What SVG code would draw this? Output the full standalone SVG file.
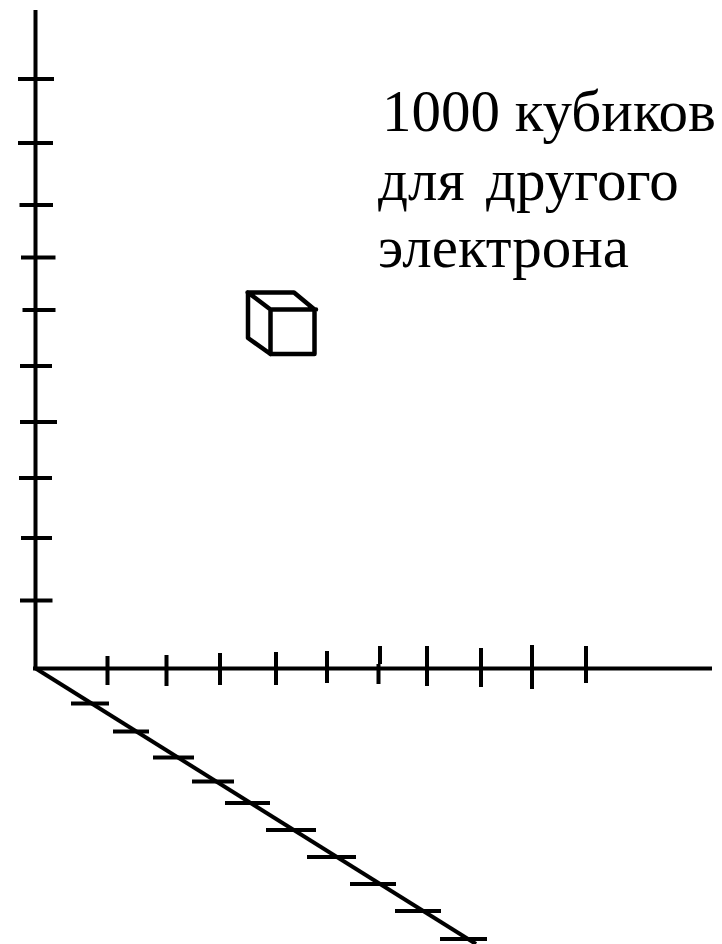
<svg xmlns="http://www.w3.org/2000/svg" width="722" height="944" viewBox="0 0 722 944">
<style>
.l{stroke:#000;stroke-width:4;fill:none}
.c{stroke:#000;stroke-width:4.5;fill:none;stroke-linecap:round;stroke-linejoin:round}
text{font-family:"Liberation Serif","Times New Roman",serif;font-size:59px;fill:#000;white-space:pre}
</style>
<rect width="722" height="944" fill="#fff"/>
<g id="axes" class="l">
<path d="M35.5 10V670M33 668.5H712"/>
<path d="M35 668L476 944"/>
</g>
<g id="ticks" class="l">
<path d="M18 79H54M18 143H53M19.500 205H53M21 257.500H55.500M22.500 310H55.500M20 366H52M20 422H57M19 478H52M21 538H52M20 600.500H52.500"/>
<path d="M107.500 656V685M166.500 655V686M220 653V685M276 652V685M327 651V683M380 646V664M378.500 664V684M427 646V686M481 648V687M532 645V689M586 646V683"/>
<path d="M71 703.500H109M113 731.500H149M153 757.500H194M192 781.500H234M225 803H270M266 830H316M307 857H356M350 884H396M395 911H441M440 939H487"/>
</g>
<g id="cube" class="c">
<path d="M271 309.500H316M314.500 309.500V354H270.500V309.500M247.500 292.500H294L314.500 309.500M248 292.500V338L270.500 354M248 292.500L270.500 309.500"/>
</g>
<g id="label">
<text x="382" y="131">1000 кубиков</text>
<text x="378" y="200" word-spacing="-4">для  другого</text>
<text x="378" y="267">электрона</text>
</g>
</svg>
